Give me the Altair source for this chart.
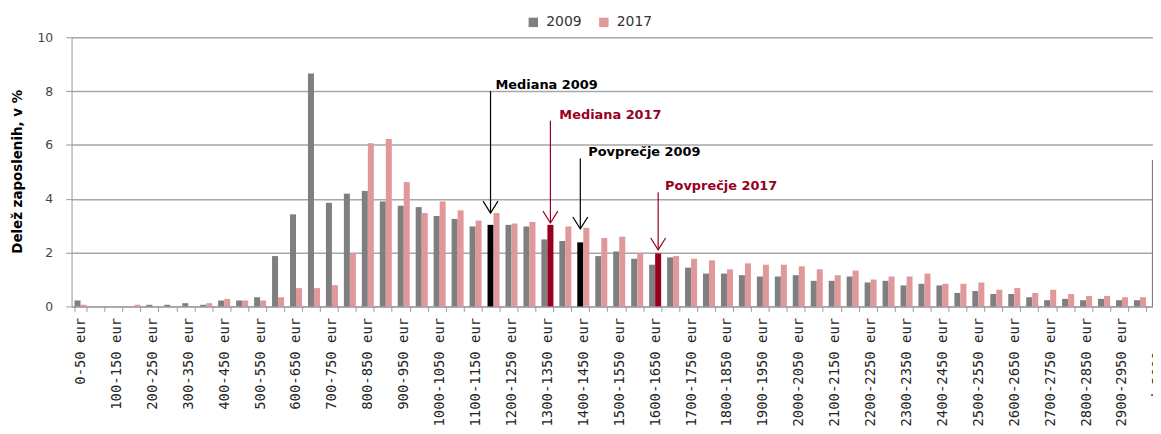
import json
import altair as alt
import pandas as pd

categories = [
    "0-50 eur", "50-100 eur", "100-150 eur", "150-200 eur", "200-250 eur", "250-300 eur",
    "300-350 eur", "350-400 eur", "400-450 eur", "450-500 eur", "500-550 eur", "550-600 eur",
    "600-650 eur", "650-700 eur", "700-750 eur", "750-800 eur", "800-850 eur", "850-900 eur",
    "900-950 eur", "950-1000 eur", "1000-1050 eur", "1050-1100 eur", "1100-1150 eur",
    "1150-1200 eur", "1200-1250 eur", "1250-1300 eur", "1300-1350 eur", "1350-1400 eur",
    "1400-1450 eur", "1450-1500 eur", "1500-1550 eur", "1550-1600 eur", "1600-1650 eur",
    "1650-1700 eur", "1700-1750 eur", "1750-1800 eur", "1800-1850 eur", "1850-1900 eur",
    "1900-1950 eur", "1950-2000 eur", "2000-2050 eur", "2050-2100 eur", "2100-2150 eur",
    "2150-2200 eur", "2200-2250 eur", "2250-2300 eur", "2300-2350 eur", "2350-2400 eur",
    "2400-2450 eur", "2450-2500 eur", "2500-2550 eur", "2550-2600 eur", "2600-2650 eur",
    "2650-2700 eur", "2700-2750 eur", "2750-2800 eur", "2800-2850 eur", "2850-2900 eur",
    "2900-2950 eur", "2950-3000 eur", "nad 3000 eur",
]

share_2009 = [
    0.22, 0.0, 0.0, 0.0, 0.06, 0.06, 0.12, 0.06, 0.22, 0.22, 0.34, 1.87,
    3.42, 8.65, 3.85, 4.19, 4.29, 3.90, 3.74, 3.69, 3.36, 3.25, 2.97,
    3.03, 3.03, 2.97, 2.49, 2.43, 2.38, 1.87, 2.04, 1.77, 1.55,
    1.82, 1.44, 1.22, 1.22, 1.16, 1.11, 1.11, 1.16, 0.95, 0.95,
    1.11, 0.89, 0.95, 0.78, 0.84, 0.78, 0.50, 0.57, 0.46, 0.46,
    0.34, 0.23, 0.28, 0.23, 0.28, 0.23, 0.23, 5.44,
]

share_2017 = [
    0.06, 0.0, 0.0, 0.06, 0.0, 0.0, 0.0, 0.12, 0.28, 0.22, 0.22, 0.34,
    0.68, 0.68, 0.79, 1.97, 6.06, 6.22, 4.62, 3.47, 3.90, 3.57, 3.19,
    3.47, 3.08, 3.14, 3.03, 2.97, 2.92, 2.54, 2.59, 1.97, 1.97,
    1.87, 1.77, 1.71, 1.38, 1.60, 1.55, 1.55, 1.49, 1.38, 1.16,
    1.33, 1.00, 1.11, 1.11, 1.22, 0.84, 0.84, 0.89, 0.62, 0.68,
    0.50, 0.62, 0.46, 0.39, 0.39, 0.34, 0.34, None,
]

series = ["2009", "2017"]
highlight_2009 = ["1150-1200 eur", "1400-1450 eur"]
highlight_2017 = ["1300-1350 eur", "1600-1650 eur"]

ann_labels = ["Mediana 2009", "Mediana 2017", "Povprečje 2009", "Povprečje 2017"]
ann_categories = ["1150-1200 eur", "1300-1350 eur", "1400-1450 eur", "1600-1650 eur"]
ann_series = ["2009", "2017", "2009", "2017"]
ann_top = [8.0, 6.9, 5.5, 4.24]
ann_tip = [3.47, 3.1, 2.88, 2.1]

GRAY = "#7F7F7F"
PINK = "#E0999A"
BLACK = "#000000"
DARKRED = "#99001F"
ann_colors = [BLACK, DARKRED, BLACK, DARKRED]
ann_dx = [5, 9, 8, 7]

rows = []
for i, cat in enumerate(categories):
    for s, vals, hl in (("2009", share_2009, highlight_2009), ("2017", share_2017, highlight_2017)):
        v = vals[i]
        if v is None:
            continue
        key = s + " poudarek" if cat in hl else s
        rows.append({"kategorija": cat, "serija": s, "delez": v, "barva": key})
bars_df = pd.DataFrame(rows)

ann_df = pd.DataFrame({
    "oznaka": ann_labels,
    "kategorija": ann_categories,
    "serija": ann_series,
    "vrh": ann_top,
    "konica": ann_tip,
    "barva": ann_colors,
})

shown = categories[::2]
label_expr = "indexof(" + json.dumps(shown) + ", datum.value) >= 0 ? datum.label : ''"

PLOT_W = 1089
RANGE_W = 1103

x_enc = alt.X(
    "kategorija:N",
    sort=categories,
    scale=alt.Scale(domain=categories, paddingInner=0.33, paddingOuter=0.165, range=[0, RANGE_W]),
    axis=alt.Axis(
        title=None, labelAngle=-90, labelExpr=label_expr, labelOverlap=False,
        tickBand="extent", tickSize=5, tickColor="#999999", domainColor="#999999",
        labelFont="DejaVu Sans Mono", labelFontSize=14, labelColor="#222222",
        labelPadding=6, grid=False, labelLimit=300,
    ),
)
xoff_enc = alt.XOffset("serija:N", scale=alt.Scale(domain=series, paddingInner=0, paddingOuter=0))

y_axis = alt.Axis(
    values=[0, 2, 4, 6, 8, 10], title="Delež zaposlenih, v %", grid=True,
    gridColor="#A6A6A6", gridWidth=1.5, tickSize=6, tickColor="#999999",
    domainColor="#999999", labelPadding=13, labelFont="DejaVu Sans", labelFontSize=12.5,
    labelColor="#444444", titleFont="DejaVu Sans", titleFontSize=13.5, titleFontWeight="bold",
    titleColor="#000000", titleX=-54, titleY=135, titleAngle=-90, titleAlign="center",
    titleBaseline="middle",
)

bars = alt.Chart(bars_df).mark_bar().encode(
    x=x_enc,
    xOffset=xoff_enc,
    y=alt.Y("delez:Q", scale=alt.Scale(domain=[0, 10], nice=False), axis=y_axis),
    color=alt.Color(
        "barva:N",
        scale=alt.Scale(domain=["2009", "2017", "2009 poudarek", "2017 poudarek"],
                        range=[GRAY, PINK, BLACK, DARKRED]),
        legend=alt.Legend(
            values=["2009", "2017"], orient="none", legendX=458, legendY=-22,
            direction="horizontal", title=None, symbolType="square", symbolSize=90,
            labelFontSize=14, labelFont="DejaVu Sans", labelColor="#333333",
            columnPadding=15, labelOffset=6, padding=0, symbolStrokeWidth=0,
        ),
    ),
)

ann_base = alt.Chart(ann_df)
rules = ann_base.mark_rule(strokeWidth=1.2).encode(
    x="kategorija:N",
    xOffset="serija:N",
    y="vrh:Q",
    y2="konica:Q",
    stroke=alt.Stroke("barva:N", scale=None),
)
heads = ann_base.mark_point(
    shape="M-1,-1.6L0,0L1,-1.6", filled=False, size=225, strokeWidth=1.2, opacity=1
).encode(
    x="kategorija:N",
    xOffset="serija:N",
    y="konica:Q",
    stroke=alt.Stroke("barva:N", scale=None),
)

texts = []
for lab, dx in zip(ann_labels, ann_dx):
    texts.append(
        ann_base.transform_filter(alt.datum.oznaka == lab).mark_text(
            align="left", baseline="alphabetic", dx=dx, dy=-2,
            font="DejaVu Sans", fontSize=13, fontWeight="bold",
        ).encode(
            x="kategorija:N",
            xOffset="serija:N",
            y="vrh:Q",
            text="oznaka:N",
            fill=alt.Fill("barva:N", scale=None),
        )
    )

chart = alt.layer(bars, rules, heads, *texts).properties(
    width=PLOT_W,
    height=271,
    autosize=alt.AutoSizeParams(type="none"),
    padding={"left": 64, "top": 28, "right": 0, "bottom": 127},
    background="white",
).configure_view(stroke=None)

chart.save("out.html", embed_options={"renderer": "svg", "actions": False})
